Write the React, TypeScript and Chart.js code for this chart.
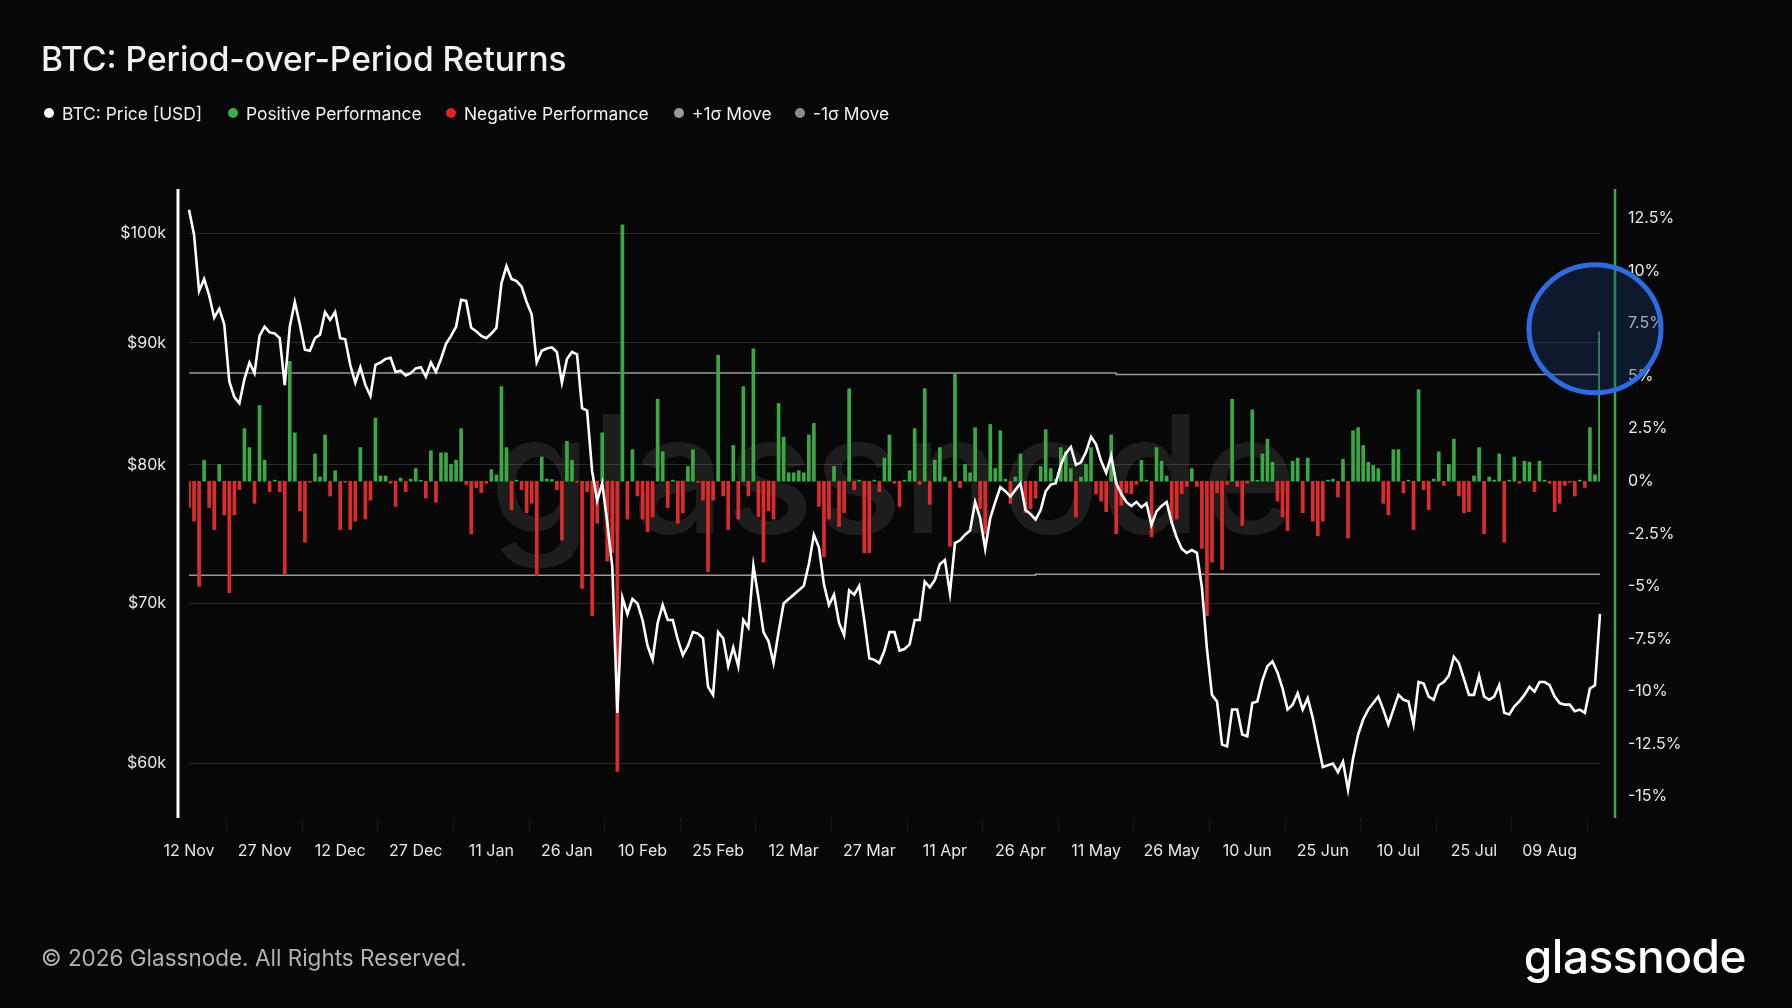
import { useEffect, useRef } from "react";
import { Chart, registerables } from "chart.js";

Chart.register(...registerables);

// daily BTC close, thousands of USD, from 12 Nov 2025
const btcPriceK = [
  102.3, 99.9, 94.6, 95.7, 94.2, 92.2, 93.0, 91.6, 86.7, 85.4,
  84.9, 86.9, 88.3, 87.4, 90.6, 91.4, 90.9, 90.8, 90.4, 86.4,
  91.4, 93.6, 91.6, 89.4, 89.3, 90.4, 90.7, 92.7, 92.0, 92.7,
  90.4, 90.3, 88.1, 86.6, 87.9, 86.4, 85.5, 88.1, 88.3, 88.6,
  88.7, 87.5, 87.6, 87.2, 87.4, 87.8, 87.9, 87.1, 88.3, 87.5,
  88.6, 89.9, 90.6, 91.4, 93.8, 93.7, 91.3, 91.0, 90.6, 90.4,
  90.8, 91.3, 95.3, 96.9, 95.7, 95.5, 95.0, 93.6, 92.5, 88.3,
  89.3, 89.5, 89.6, 89.2, 86.6, 88.6, 89.2, 89.0, 84.5, 84.3,
  79.5, 77.3, 78.6, 75.7, 72.5, 63.0, 70.4, 69.3, 70.3, 70.0,
  68.9, 67.2, 66.3, 68.7, 69.9, 68.9, 68.9, 67.6, 66.6, 67.2,
  68.1, 68.0, 67.7, 64.6, 64.1, 68.1, 67.7, 65.9, 67.1, 65.9,
  68.9, 68.4, 72.6, 70.4, 68.1, 67.5, 66.1, 68.1, 70.0, 70.3,
  70.6, 70.9, 71.2, 72.7, 74.8, 73.9, 71.3, 69.9, 70.6, 68.7,
  67.9, 70.9, 70.6, 71.2, 68.9, 66.4, 66.3, 66.1, 66.9, 68.1,
  68.1, 66.9, 67.0, 67.3, 68.9, 68.9, 71.5, 71.1, 71.6, 72.7,
  73.0, 70.7, 74.2, 74.4, 74.8, 75.1, 77.2, 76.0, 73.8, 76.0,
  77.2, 78.3, 78.0, 77.6, 78.1, 78.6, 76.6, 76.3, 75.9, 76.6,
  78.0, 78.5, 78.6, 80.0, 80.9, 81.4, 80.0, 80.2, 81.0, 82.2,
  81.6, 80.3, 79.4, 80.7, 78.6, 77.8, 77.2, 76.9, 77.2, 76.8,
  77.1, 75.5, 76.5, 76.9, 77.2, 75.7, 74.6, 73.8, 73.5, 73.7,
  73.5, 71.1, 67.0, 64.1, 63.7, 61.1, 61.0, 63.2, 63.2, 61.7,
  61.6, 63.6, 63.7, 65.0, 65.9, 66.2, 65.5, 64.5, 63.2, 63.5,
  64.2, 63.2, 63.9, 62.7, 61.2, 59.8, 59.9, 60.0, 59.5, 60.1,
  58.5, 60.3, 61.7, 62.6, 63.2, 63.6, 64.0, 63.2, 62.3, 63.2,
  64.1, 63.8, 63.7, 62.3, 64.9, 64.8, 64.0, 63.8, 64.7, 64.9,
  65.3, 66.5, 66.1, 65.1, 64.1, 64.1, 65.3, 64.0, 63.8, 64.0,
  64.7, 63.0, 62.9, 63.4, 63.7, 64.1, 64.6, 64.3, 64.9, 64.9,
  64.7, 64.0, 63.6, 63.5, 63.5, 63.1, 63.2, 63.0, 64.5, 64.7,
  69.3,
];

// period-over-period return, %
const returnsPct = [
  -1.25, -1.9, -5.0, 1.0, -1.25, -2.3, 0.8, -1.6, -5.3, -1.6,
  -0.4, 2.5, 1.6, -1.05, 3.6, 1.0, -0.5, 0.05, -0.5, -4.4,
  5.7, 2.3, -1.4, -2.9, -0.05, 1.3, 0.2, 2.2, -0.7, 0.5,
  -2.3, -0.05, -2.3, -1.9, 1.6, -1.8, -0.9, 3.0, 0.25, 0.25,
  -0.1, -1.2, 0.15, -0.5, 0.1, 0.6, 0.04, -0.8, 1.45, -1.0,
  1.35, 1.35, 0.8, 1.0, 2.5, -0.15, -2.5, -0.3, -0.55, -0.1,
  0.55, 0.3, 4.5, 1.6, -1.35, 0.05, -0.4, -1.5, -1.05, -4.5,
  1.15, 0.1, 0.08, -0.4, -2.8, 1.9, 1.0, -0.05, -5.1, -0.5,
  -6.4, -2.0, 2.3, -3.8, -3.4, -13.8, 12.2, -1.8, 1.5, -0.7,
  -1.8, -2.4, -1.7, 3.9, 1.4, -1.25, 0.05, -2.0, -1.5, 0.7,
  1.5, -0.05, -0.9, -4.3, -0.9, 6.0, -0.7, -2.3, 1.7, -1.8,
  4.5, -0.7, 6.3, -1.7, -3.85, -1.4, -1.8, 3.7, 2.1, 0.4,
  0.4, 0.5, 0.4, 2.2, 2.75, -1.2, -3.6, -1.8, 0.7, -2.15,
  -1.5, 4.4, -0.4, 0.05, -3.4, -3.4, 0.05, -0.5, 1.1, 2.2,
  -0.1, -1.2, 0.05, 0.5, 2.5, -0.15, 4.4, -1.1, 1.0, 1.6,
  0.2, -3.1, 5.1, -0.3, 0.8, 0.4, 2.55, -1.3, -2.5, 2.7,
  0.6, 2.4, 0.1, -1.05, 0.2, 1.3, -1.5, -1.3, -0.8, 0.7,
  2.45, 0.6, 0.1, 1.6, 1.4, 0.6, -1.7, 0.2, 0.8, 1.6,
  -0.6, -0.95, -1.45, 2.2, -2.5, -1.15, -0.55, -0.6, -0.15, 1.0,
  0.05, -2.65, 1.6, 0.95, 0.25, -2.0, -1.8, -0.6, -0.25, 0.6,
  -0.25, -3.2, -6.4, -3.85, -0.55, -4.2, -0.15, 3.9, -0.25, -2.1,
  -0.1, 3.4, 0.05, 1.3, 2.0, 0.9, -0.95, -1.7, -2.35, 0.95,
  1.1, -1.5, 1.1, -1.9, -2.6, -1.9, 0.05, 0.1, -0.75, 1.05,
  -2.7, 2.4, 2.55, 1.7, 0.9, 0.75, 0.6, -1.05, -1.6, 1.5,
  1.5, -0.55, 0.05, -2.3, 4.35, -0.4, -1.35, 0.1, 1.4, -0.2,
  0.8, 2.0, -0.7, -1.5, -1.45, 0.25, 1.6, -2.5, 0.2, 0.05,
  1.3, -2.9, 0.05, 1.15, -0.1, 0.95, 0.9, -0.5, 0.95, 0.05,
  -0.1, -1.45, -1.05, -0.2, -0.05, -0.7, 0.05, -0.3, 2.55, 0.3,
  7.1,
];

// sigma bands: [first day index, level %]
const plusSigmaSteps = [[0, 5.15], [184, 5.08]];
const minusSigmaSteps = [[0, -4.47], [168, -4.43]];

const priceTicks = [60000, 70000, 80000, 90000, 100000];
const returnTicks = [-15, -12.5, -10, -7.5, -5, -2.5, 0, 2.5, 5, 7.5, 10, 12.5];
const MONTHS = ["Jan", "Feb", "Mar", "Apr", "May", "Jun", "Jul", "Aug", "Sep", "Oct", "Nov", "Dec"];

const GREEN = "#3aa843";
const RED = "#dc2b2b";
const FONT = "Inter, 'Noto Sans', sans-serif";

const dayLabels = btcPriceK.map((_, i) => {
  const d = new Date(Date.UTC(2025, 10, 12 + i));
  return `${String(d.getUTCDate()).padStart(2, "0")} ${MONTHS[d.getUTCMonth()]}`;
});

const stepLevel = (steps: number[][], i: number) => {
  let v = steps[0][1];
  for (const [from, level] of steps) if (i >= from) v = level;
  return v;
};

const decorPlugin = {
  id: "decor",
  beforeDatasetsDraw(chart: any) {
    const { ctx, chartArea } = chart;
    ctx.save();
    ctx.font = `500 164px ${FONT}`;
    ctx.fillStyle = "rgba(255,255,255,0.09)";
    ctx.textAlign = "center";
    ctx.textBaseline = "alphabetic";
    ctx.fillText("glassnode", (chartArea.left + chartArea.right) / 2 - 1, 533);
    ctx.restore();
  },
  afterDraw(chart: any) {
    const { ctx, chartArea, scales } = chart;
    ctx.save();
    // axis lines
    ctx.lineWidth = 3;
    ctx.strokeStyle = "#ffffff";
    ctx.beginPath();
    ctx.moveTo(chartArea.left - 11, chartArea.top);
    ctx.lineTo(chartArea.left - 11, chartArea.bottom);
    ctx.stroke();
    ctx.lineWidth = 2.5;
    ctx.strokeStyle = GREEN;
    ctx.beginPath();
    ctx.moveTo(chartArea.right + 15, chartArea.top);
    ctx.lineTo(chartArea.right + 15, chartArea.bottom);
    ctx.stroke();
    // highlight circle around the last bar
    const cx = scales.x.getPixelForValue(btcPriceK.length - 1) - 5;
    const cy = scales.y2.getPixelForValue(7.25);
    ctx.beginPath();
    ctx.ellipse(cx, cy, 66, 64, 0, 0, Math.PI * 2);
    ctx.fillStyle = "rgba(30,60,120,0.35)";
    ctx.fill();
    ctx.lineWidth = 5;
    ctx.strokeStyle = "#2d6be0";
    ctx.stroke();
    ctx.restore();
  },
};

const legendItems = [
  { label: "BTC: Price [USD]", color: "#ffffff", x: 49 },
  { label: "Positive Performance", color: "#3cb043", x: 233 },
  { label: "Negative Performance", color: "#e02424", x: 451 },
  { label: "+1σ Move", color: "#9a9a9a", x: 679 },
  { label: "-1σ Move", color: "#8c8c8c", x: 800 },
];

function ReturnsChart() {
  const chartRef = useRef<HTMLCanvasElement>(null);
  const chartInstance = useRef<Chart | null>(null);

  useEffect(() => {
    if (!chartRef.current) return;
    const ctx = chartRef.current.getContext("2d");
    if (!ctx) return;
    if (chartInstance.current) chartInstance.current.destroy();

    Chart.defaults.font.family = FONT;

    chartInstance.current = new Chart(ctx, {
      type: "bar",
      data: {
        labels: dayLabels,
        datasets: [
          {
            type: "line",
            label: "BTC: Price [USD]",
            data: btcPriceK.map((v) => v * 1000),
            yAxisID: "y",
            borderColor: "#ffffff",
            borderWidth: 2.6,
            pointRadius: 0,
            tension: 0,
            order: 0,
          },
          {
            type: "bar",
            label: "Returns",
            data: returnsPct,
            yAxisID: "y2",
            backgroundColor: returnsPct.map((v) => (v >= 0 ? GREEN : RED)),
            barThickness: 3,
            order: 1,
          },
          {
            type: "line",
            label: "+1σ Move",
            data: btcPriceK.map((_, i) => stepLevel(plusSigmaSteps, i)),
            yAxisID: "y2",
            borderColor: "rgba(190,190,190,0.8)",
            borderWidth: 1.5,
            pointRadius: 0,
            stepped: true,
            order: 2,
          },
          {
            type: "line",
            label: "-1σ Move",
            data: btcPriceK.map((_, i) => stepLevel(minusSigmaSteps, i)),
            yAxisID: "y2",
            borderColor: "rgba(190,190,190,0.8)",
            borderWidth: 1.5,
            pointRadius: 0,
            stepped: true,
            order: 2,
          },
        ],
      } as any,
      options: {
        responsive: false,
        animation: false,
        layout: { padding: { top: 189, left: 0, right: 0, bottom: 0 } },
        plugins: {
          legend: { display: false },
          tooltip: { enabled: false },
        },
        scales: {
          x: {
            type: "category",
            offset: false,
            grid: {
              display: true,
              drawOnChartArea: false,
              drawTicks: true,
              tickLength: 14,
              color: "#181818",
            },
            border: { display: false },
            ticks: {
              color: "#e8e8e8",
              font: { size: 16 },
              maxRotation: 0,
              minRotation: 0,
              autoSkip: false,
              padding: 10,
            },
            afterBuildTicks: (s: any) => {
              s.ticks = s.ticks.filter((t: any) => t.value % 15 === 0);
            },
            afterFit: (s: any) => {
              s.height = 190;
            },
          },
          y: {
            type: "logarithmic",
            position: "left",
            min: 56930,
            max: 104370,
            grid: { color: "#2a2a2a", lineWidth: 1, drawTicks: false },
            border: { display: false },
            ticks: {
              color: "#e8e8e8",
              font: { size: 16 },
              padding: 23,
              callback: (v: any) => `$${Math.round(Number(v) / 1000)}k`,
            },
            afterBuildTicks: (s: any) => {
              s.ticks = priceTicks.map((v) => ({ value: v }));
            },
            afterFit: (s: any) => {
              s.width = 189;
            },
          },
          y2: {
            type: "linear",
            position: "right",
            min: -16.02,
            max: 13.9,
            grid: { display: false, drawTicks: false },
            border: { display: false },
            ticks: {
              color: "#e8e8e8",
              font: { size: 16 },
              padding: 28,
              callback: (v: any) => `${v}%`,
            },
            afterBuildTicks: (s: any) => {
              s.ticks = returnTicks.map((v) => ({ value: v }));
            },
            afterFit: (s: any) => {
              s.width = 192;
            },
          },
        },
      } as any,
      plugins: [decorPlugin],
    });

    return () => {
      if (chartInstance.current) {
        chartInstance.current.destroy();
        chartInstance.current = null;
      }
    };
  }, []);

  return <canvas ref={chartRef} width={1792} height={1008} style={{ position: "absolute", left: 0, top: 0 }} />;
}

export default function App() {
  useEffect(() => {
    document.body.style.margin = "0";
    document.body.style.background = "#070707";
  }, []);

  return (
    <div
      style={{
        position: "relative",
        width: 1792,
        height: 1008,
        background: "#070707",
        overflow: "hidden",
        fontFamily: FONT,
        color: "#f2f2f2",
      }}
    >
      <ReturnsChart />
      <div
        style={{
          position: "absolute",
          left: 41,
          top: 39,
          fontSize: 33.5,
          lineHeight: "40px",
          fontWeight: 500,
          whiteSpace: "nowrap",
        }}
      >
        BTC: Period-over-Period Returns
      </div>
      {legendItems.map((item) => (
        <div
          key={item.label}
          style={{
            position: "absolute",
            left: item.x - 5,
            top: 102,
            height: 22,
            display: "flex",
            alignItems: "center",
            fontSize: 17.4,
            whiteSpace: "nowrap",
          }}
        >
          <span
            style={{
              width: 10,
              height: 10,
              borderRadius: 5,
              background: item.color,
              marginRight: 8,
              display: "inline-block",
            }}
          />
          {item.label}
        </div>
      ))}
      <div
        style={{
          position: "absolute",
          left: 41,
          top: 944,
          fontSize: 22.5,
          lineHeight: "28px",
          color: "#b3b3b3",
          whiteSpace: "nowrap",
        }}
      >
        © 2026 Glassnode. All Rights Reserved.
      </div>
      <div
        style={{
          position: "absolute",
          right: 46,
          top: 930,
          fontSize: 46,
          lineHeight: "52px",
          fontWeight: 500,
          letterSpacing: "-0.5px",
          color: "#ffffff",
          whiteSpace: "nowrap",
        }}
      >
        glassnode
      </div>
    </div>
  );
}
